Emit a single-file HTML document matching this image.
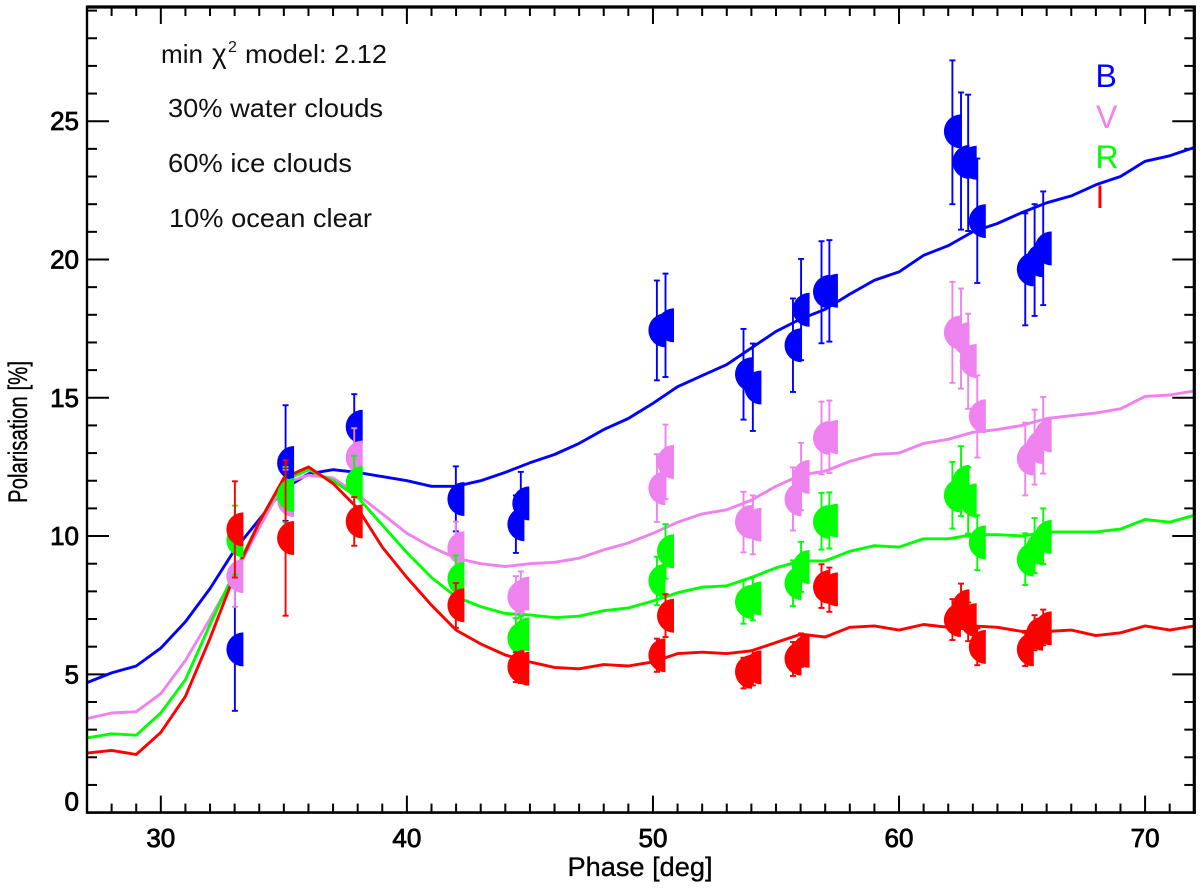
<!DOCTYPE html>
<html lang="en">
<head>
<meta charset="utf-8">
<title>Polarisation vs Phase</title>
<style>
html,body{margin:0;padding:0;background:#fff;width:1200px;height:888px;overflow:hidden}
svg{display:block;font-family:"Liberation Sans",Arial,sans-serif}
</style>
</head>
<body>
<svg id="chart" width="1200" height="888" viewBox="0 0 1200 888" xmlns="http://www.w3.org/2000/svg">
  <rect x="0" y="0" width="1200" height="888" fill="#fff"/>
  <g id="ticks"></g>
  <g id="lines"></g>
  <g id="points"></g>
  <g id="frame"></g>
  <g id="labels" font-size="26" fill="#000" stroke="#000" stroke-width="0.8"></g>
  <text x="640" y="876" font-size="27" text-anchor="middle" fill="#000" stroke="#000" stroke-width="0.3" textLength="145" lengthAdjust="spacingAndGlyphs">Phase [deg]</text>
  <text transform="translate(27,432) rotate(-90)" font-size="27" text-anchor="middle" fill="#000" stroke="#000" stroke-width="0.3" textLength="142" lengthAdjust="spacingAndGlyphs">Polarisation [%]</text>
  <g font-size="26" fill="#111">
    <text x="161" y="63" textLength="42" lengthAdjust="spacingAndGlyphs">min</text>
    <text x="212" y="63" font-size="28">χ</text>
    <text x="228" y="52" font-size="16">2</text>
    <text x="245" y="63" textLength="142" lengthAdjust="spacingAndGlyphs">model: 2.12</text>
    <text x="168" y="117" textLength="215" lengthAdjust="spacingAndGlyphs">30% water clouds</text>
    <text x="168" y="172" textLength="184" lengthAdjust="spacingAndGlyphs">60% ice clouds</text>
    <text x="169" y="227" textLength="203" lengthAdjust="spacingAndGlyphs">10% ocean clear</text>
  </g>
  <g font-size="32">
    <text x="1095.5" y="87" fill="#0000ff">B</text>
    <text x="1096" y="128" fill="#ee82ee">V</text>
    <text x="1095.5" y="168" fill="#00ff00">R</text>
    <text x="1095.5" y="208" fill="#ff0000">I</text>
  </g>
</svg>
<script>
const modelPhases = [27,28,29,30,31,32,33,34,35,36,37,38,39,40,41,42,43,44,45,46,47,48,49,50,51,52,53,54,55,56,57,58,59,60,61,62,63,64,65,66,67,68,69,70,71,72];
const modelB = [4.7,5.05,5.3,5.95,6.9,8.1,9.5,10.6,11.7,12.25,12.4,12.3,12.15,12.0,11.8,11.8,12.0,12.3,12.65,12.95,13.35,13.85,14.25,14.8,15.4,15.8,16.2,16.8,17.4,17.85,18.2,18.75,19.25,19.55,20.15,20.5,21.0,21.3,21.7,22.05,22.3,22.7,23.0,23.55,23.75,24.05];
const modelV = [3.4,3.6,3.65,4.3,5.5,7.0,8.6,10.3,11.9,12.2,12.1,11.5,10.8,10.1,9.6,9.2,9.0,8.9,9.0,9.05,9.2,9.5,9.75,10.1,10.5,10.8,10.95,11.3,11.8,12.2,12.35,12.7,12.95,13.0,13.35,13.5,13.75,13.85,14.0,14.25,14.35,14.45,14.6,15.05,15.1,15.25];
const modelR = [2.7,2.85,2.8,3.6,4.8,6.8,8.7,10.5,12.0,12.4,12.0,11.4,10.4,9.4,8.5,7.8,7.45,7.2,7.15,7.05,7.1,7.3,7.4,7.65,7.95,8.15,8.2,8.5,8.85,9.1,9.1,9.45,9.65,9.6,9.9,9.9,10.05,10.05,10.0,10.15,10.15,10.15,10.25,10.6,10.5,10.75];
const modelI = [2.15,2.25,2.1,2.9,4.2,6.3,8.6,10.5,12.1,12.5,11.9,11.0,9.6,8.5,7.5,6.6,6.1,5.7,5.45,5.25,5.2,5.35,5.3,5.45,5.75,5.8,5.75,5.85,6.15,6.45,6.35,6.7,6.75,6.6,6.8,6.7,6.75,6.7,6.55,6.55,6.6,6.4,6.5,6.75,6.6,6.75];

const obsPhases = [33.01,35.07,37.86,41.99,44.43,44.63,50.16,50.51,53.68,54.06,55.69,56.02,56.85,57.17,62.17,62.52,62.81,63.18,65.13,65.51,65.86];

const obsB = [5.9,12.64,13.95,11.34,10.43,11.18,17.44,17.62,15.85,15.37,16.9,18.18,18.83,18.87,24.63,23.53,23.5,21.39,19.64,19.97,20.4];
const obsBHigh = [8.15,14.73,15.13,12.52,11.47,12.32,19.24,19.49,17.49,16.96,18.59,20.02,20.66,20.7,27.2,26.04,25.96,23.65,21.67,22.0,22.46];
const obsBLow = [3.68,10.55,12.77,10.17,9.39,10.04,15.63,15.75,14.21,13.8,15.21,16.36,16.97,17.03,22.0,21.08,21.03,19.15,17.62,17.96,18.35];

const obsV = [8.55,11.3,12.84,9.56,7.8,7.92,11.73,12.68,10.51,10.41,11.33,12.14,13.55,13.58,17.36,17.12,16.33,14.33,12.8,13.22,13.64];
const obsVHigh = [9.66,12.4,13.9,10.52,8.55,8.72,12.96,14.03,11.6,11.47,12.48,13.37,14.86,14.9,19.19,18.95,18.04,15.81,14.1,14.57,15.03];
const obsVLow = [7.44,10.2,11.8,8.6,7.03,7.1,10.51,11.34,9.41,9.34,10.2,10.93,12.23,12.28,15.54,15.33,14.6,12.84,11.47,11.86,12.26];

const obsR = [9.85,11.48,11.92,8.45,6.3,6.45,8.38,9.45,7.62,7.74,8.3,8.88,10.51,10.56,11.47,11.96,11.29,9.77,9.15,9.56,9.97];
const obsRHigh = [11.1,12.5,12.9,9.3,7.03,7.1,9.25,10.43,8.4,8.52,9.12,9.79,11.56,11.58,12.68,13.25,12.49,10.75,10.1,10.65,11.0];
const obsRLow = [8.6,10.5,10.9,7.6,5.6,5.7,7.5,8.46,6.83,6.95,7.47,7.98,9.51,9.55,10.27,10.72,10.09,8.77,8.23,8.66,8.99];

const obsI = [10.24,9.93,10.53,7.5,5.27,5.2,5.69,7.12,5.09,5.25,5.57,5.85,8.16,8.07,6.96,7.46,6.96,5.99,5.9,6.47,6.66];
const obsIHigh = [11.98,12.74,11.41,8.3,5.8,5.72,6.29,7.9,5.6,5.87,6.17,6.48,8.98,8.86,7.72,8.28,7.6,6.66,6.5,7.14,7.34];
const obsILow = [8.5,7.12,9.65,6.68,4.72,4.68,5.09,6.35,4.49,4.6,4.94,5.27,7.4,7.26,6.24,6.64,6.2,5.33,5.3,5.87,6.05];

const xTickLabels = [30,40,50,60,70];
const yTickLabels = [0,5,10,15,20,25];
const xRange = [27,72];
const yRange = [0,29.13];

const plotLeft = 87, plotRight = 1194.3, plotBottom = 812.6, plotTop = 7;
const NS = 'http://www.w3.org/2000/svg';

function xScale(v){ return plotLeft + (v - xRange[0]) / (xRange[1] - xRange[0]) * (plotRight - plotLeft); }
function yScale(v){ return plotBottom - (v - yRange[0]) / (yRange[1] - yRange[0]) * (plotBottom - plotTop); }

function strokeLine(parent, x1, y1, x2, y2, color, width){
  const l = document.createElementNS(NS, 'line');
  l.setAttribute('x1', x1);
  l.setAttribute('y1', y1);
  l.setAttribute('x2', x2);
  l.setAttribute('y2', y2);
  l.setAttribute('stroke', color);
  l.setAttribute('stroke-width', width);
  parent.appendChild(l);
  return l;
}

/* ticks */
const ticksG = document.getElementById('ticks');
for (let v = 28; v < 72; v++) {
  const major = v % 10 === 0;
  const len = major ? 17 : 9;
  const px = xScale(v);
  const bt = strokeLine(ticksG, px, plotBottom, px, plotBottom - len, '#000', 2);
  
  
  const tt = strokeLine(ticksG, px, plotTop, px, plotTop + len, '#000', 2);
  
  
}
for (let v = 0; v <= 29; v++) {
  const major = v % 5 === 0;
  const len = major ? 22 : 10;
  const py = yScale(v);
  const lt = strokeLine(ticksG, plotLeft, py, plotLeft + len, py, '#000', 2);
  
  
  const rt = strokeLine(ticksG, plotRight, py, plotRight - len, py, '#000', 2);
  
  
}

/* model lines */
const linesG = document.getElementById('lines');
const modelSeries = [
  ['model-line-b', modelB, '#0000ff'],
  ['model-line-v', modelV, '#ee82ee'],
  ['model-line-r', modelR, '#00ff00'],
  ['model-line-i', modelI, '#ff0000']
];
modelSeries.forEach(function(s){
  const p = document.createElementNS(NS, 'polyline');
  const pts = s[1].map(function(v, i){ return xScale(modelPhases[i]).toFixed(1) + ',' + yScale(v).toFixed(1); }).join(' ');
  p.setAttribute('points', pts);
  p.setAttribute('fill', 'none');
  p.setAttribute('stroke', s[2]);
  p.setAttribute('stroke-width', '2.9');
  p.setAttribute('stroke-linejoin', 'round');
  
  
  linesG.appendChild(p);
});

/* observed points with error bars */
const pointsG = document.getElementById('points');
const obsSeries = [
  ['b', obsB, obsBHigh, obsBLow, '#0000ff'],
  ['v', obsV, obsVHigh, obsVLow, '#ee82ee'],
  ['r', obsR, obsRHigh, obsRLow, '#00ff00'],
  ['i', obsI, obsIHigh, obsILow, '#ff0000']
];
const markerR = 17;
obsSeries.forEach(function(s){
  const g = document.createElementNS(NS, 'g');
  
  
  pointsG.appendChild(g);
  s[1].forEach(function(v, i){
    const px = xScale(obsPhases[i]);
    const py = yScale(v);
    const hi = yScale(s[2][i]);
    const lo = yScale(s[3][i]);
    const bar = strokeLine(g, px, hi, px, lo, s[4], 1.9);
    
    
    const capA = strokeLine(g, px - 3, hi, px + 3, hi, s[4], 1.9);
    
    
    const capB = strokeLine(g, px - 3, lo, px + 3, lo, s[4], 1.9);
    
    
    const m = document.createElementNS(NS, 'path');
    const ex = px + 8.5;
    m.setAttribute('d', 'M' + ex.toFixed(1) + ' ' + (py - markerR).toFixed(1) +
      ' A' + markerR + ' ' + markerR + ' 0 0 0 ' + ex.toFixed(1) + ' ' + (py + markerR).toFixed(1) + ' Z');
    m.setAttribute('fill', s[4]);
    
    
    g.appendChild(m);
  });
});

/* frame */
const frameG = document.getElementById('frame');
const fl = strokeLine(frameG, plotLeft, plotTop - 1.5, plotLeft, plotBottom + 1.2, '#000', 2.4);


const fb = strokeLine(frameG, plotLeft, plotBottom, plotRight + 1.5, plotBottom, '#000', 2.6);


const ft = strokeLine(frameG, plotLeft, plotTop, plotRight + 1.5, plotTop, '#000', 3.2);


const fr = strokeLine(frameG, plotRight, plotTop - 1.5, plotRight, plotBottom + 1.2, '#000', 3.2);



/* tick labels */
const labelsG = document.getElementById('labels');
xTickLabels.forEach(function(v){
  const t = document.createElementNS(NS, 'text');
  t.setAttribute('x', xScale(v));
  t.setAttribute('y', 847);
  t.setAttribute('text-anchor', 'middle');
  
  
  t.textContent = v;
  labelsG.appendChild(t);
});
yTickLabels.forEach(function(v){
  const t = document.createElementNS(NS, 'text');
  t.setAttribute('x', 79);
  t.setAttribute('y', yScale(v) + (v === 0 ? -2 : 9));
  t.setAttribute('text-anchor', 'end');
  
  
  t.textContent = v;
  labelsG.appendChild(t);
});
</script>
</body>
</html>
